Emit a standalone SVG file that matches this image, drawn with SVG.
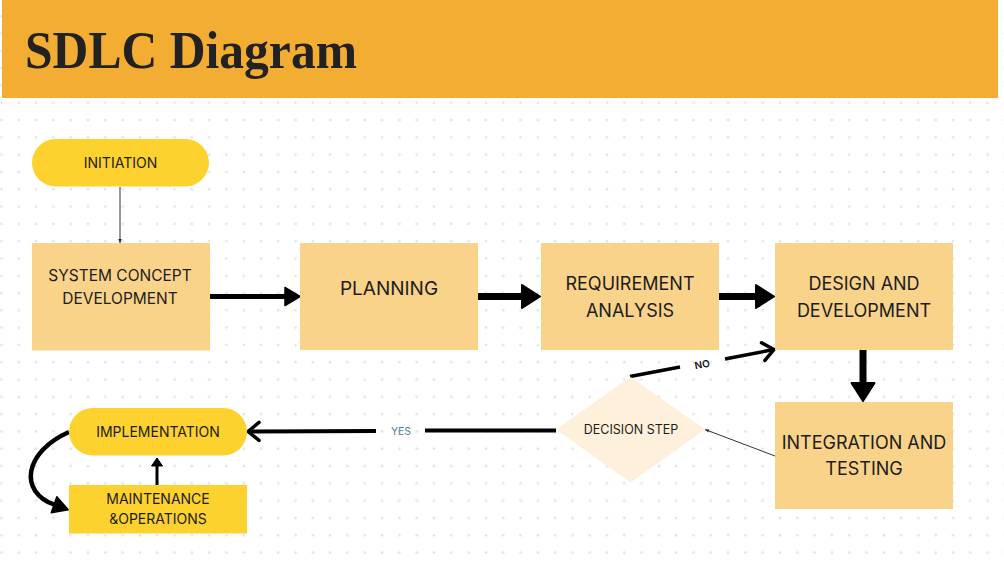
<svg xmlns="http://www.w3.org/2000/svg" width="1004" height="563" viewBox="0 0 1004 563">
<defs>
<pattern id="dots" patternUnits="userSpaceOnUse" x="-7.15" y="94.05" width="17.3" height="17.3">
<circle cx="8.65" cy="8.65" r="1.5" fill="#e2e5ec"/>
</pattern>
<marker id="ah-m" markerUnits="userSpaceOnUse" markerWidth="20" markerHeight="24" refX="1" refY="0" orient="auto" overflow="visible">
<path d="M0,-9 L15,0 L0,9 Z" fill="#000" stroke="#000" stroke-width="1.5" stroke-linejoin="round"/>
</marker>
<marker id="ah-l" markerUnits="userSpaceOnUse" markerWidth="24" markerHeight="30" refX="1" refY="0" orient="auto" overflow="visible">
<path d="M0,-11.5 L18,0 L0,11.5 Z" fill="#000" stroke="#000" stroke-width="2" stroke-linejoin="round"/>
</marker>
<marker id="ah-s" markerUnits="userSpaceOnUse" markerWidth="12" markerHeight="14" refX="1" refY="0" orient="auto" overflow="visible">
<path d="M0,-5.5 L8,0 L0,5.5 Z" fill="#000" stroke="#000" stroke-width="1" stroke-linejoin="round"/>
</marker>
<marker id="ah-c" markerUnits="userSpaceOnUse" markerWidth="20" markerHeight="22" refX="1" refY="0" orient="auto" overflow="visible">
<path d="M0,-8.5 L15,0 L0,8.5 Z" fill="#000" stroke="#000" stroke-width="1.5" stroke-linejoin="round"/>
</marker>
<marker id="ah-open" markerUnits="userSpaceOnUse" markerWidth="16" markerHeight="22" refX="0" refY="0" orient="auto" overflow="visible">
<path d="M-11,-9 L0,0 L-11,9" fill="none" stroke="#000" stroke-width="3.5" stroke-linecap="round" stroke-linejoin="round"/>
</marker>
<marker id="ah-thin" markerUnits="userSpaceOnUse" markerWidth="6" markerHeight="6" refX="4" refY="0" orient="auto" overflow="visible">
<path d="M0,-1.8 L4,0 L0,1.8 Z" fill="#333"/>
</marker>
</defs>
<style>
.box{fill:#f9d38a;}
.yel{fill:#fdd22f;}
.dia{fill:#fef0da;}
.t{font-family:Inter,"Liberation Sans",sans-serif;fill:#1c1c1c;text-anchor:middle;}
.thick{fill:none;stroke:#000;}
.thin{fill:none;stroke:#333;stroke-width:1;}
</style>
<rect x="0" y="0" width="1004" height="563" fill="#fff"/>
<rect x="0" y="0" width="1004" height="563" fill="url(#dots)"/>
<g id="header">
<rect x="2" y="0" width="996" height="98" fill="#f4ad33"/>
<text x="25" y="68" font-family="'Liberation Serif','DejaVu Serif',serif" font-weight="bold" font-size="53" fill="#222" textLength="332" lengthAdjust="spacingAndGlyphs">SDLC Diagram</text>
</g>
<g id="connectors">
<line class="thin" x1="120" y1="187" x2="120" y2="243" marker-end="url(#ah-thin)"/>
<line class="thick" stroke-width="5" x1="210" y1="296.5" x2="286" y2="296.5" marker-end="url(#ah-m)"/>
<line class="thick" stroke-width="7" x1="478" y1="296.5" x2="523" y2="296.5" marker-end="url(#ah-l)"/>
<line class="thick" stroke-width="7" x1="718" y1="296.5" x2="757" y2="296.5" marker-end="url(#ah-l)"/>
<line class="thick" stroke-width="7" x1="863" y1="350" x2="863" y2="384" marker-end="url(#ah-l)"/>
<line class="thin" x1="775" y1="456" x2="705" y2="429.5" marker-end="url(#ah-thin)"/>
<line class="thick" stroke-width="3.5" x1="630" y1="376.5" x2="680" y2="367"/>
<line class="thick" stroke-width="3.5" x1="725" y1="359" x2="774" y2="349.5" marker-end="url(#ah-open)"/>
<text x="702" y="368" font-family="Inter,'Liberation Sans',sans-serif" font-size="10" font-weight="600" fill="#111" text-anchor="middle" transform="rotate(-10 702 364)">NO</text>
<line class="thick" stroke-width="4" x1="556" y1="430.5" x2="425" y2="430.5"/>
<line class="thick" stroke-width="4" x1="376" y1="431" x2="248" y2="431.5" marker-end="url(#ah-open)"/>
<text x="401" y="435" font-family="Inter,'Liberation Sans',sans-serif" font-size="10.5" fill="#4d7f99" text-anchor="middle">YES</text>
<line class="thick" stroke-width="3" x1="157" y1="485" x2="157" y2="465" marker-end="url(#ah-s)"/>
<path class="thick" stroke-width="4.5" d="M69,432 C24,452 18,492 55,505" marker-end="url(#ah-c)"/>
</g>
<g id="initiation">
<rect class="yel" x="32" y="139" width="177" height="47.5" rx="23.75"/>
<text class="t" x="120.5" y="168" font-size="14">INITIATION</text>
</g>
<g id="system-concept">
<rect class="box" x="32" y="243" width="178" height="107.5"/>
<text class="t" x="120" y="281" font-size="15.5">SYSTEM CONCEPT</text>
<text class="t" x="120" y="304" font-size="15.5">DEVELOPMENT</text>
</g>
<g id="planning">
<rect class="box" x="300" y="243" width="178" height="107"/>
<text class="t" x="389" y="294.5" font-size="19">PLANNING</text>
</g>
<g id="requirement">
<rect class="box" x="541" y="243" width="178" height="107"/>
<text class="t" x="630" y="290" font-size="18">REQUIREMENT</text>
<text class="t" x="630" y="317" font-size="18">ANALYSIS</text>
</g>
<g id="design">
<rect class="box" x="775" y="243" width="178" height="107"/>
<text class="t" x="864" y="290" font-size="18">DESIGN AND</text>
<text class="t" x="864" y="317" font-size="18">DEVELOPMENT</text>
</g>
<g id="integration">
<rect class="box" x="775" y="402" width="178" height="107"/>
<text class="t" x="864" y="449" font-size="18">INTEGRATION AND</text>
<text class="t" x="864" y="475" font-size="18">TESTING</text>
</g>
<g id="decision">
<polygon class="dia" points="630.5,377 705,429.5 630.5,482.5 556,429.5"/>
<text class="t" x="631" y="433.5" font-size="12.5">DECISION STEP</text>
</g>
<g id="implementation">
<rect class="yel" x="69" y="408" width="178" height="47.5" rx="23.75"/>
<text class="t" x="158" y="437" font-size="14">IMPLEMENTATION</text>
</g>
<g id="maintenance">
<rect class="yel" x="69" y="485" width="178" height="48.5"/>
<text class="t" x="158" y="504" font-size="14">MAINTENANCE</text>
<text class="t" x="158" y="524" font-size="14">&amp;OPERATIONS</text>
</g>
</svg>
